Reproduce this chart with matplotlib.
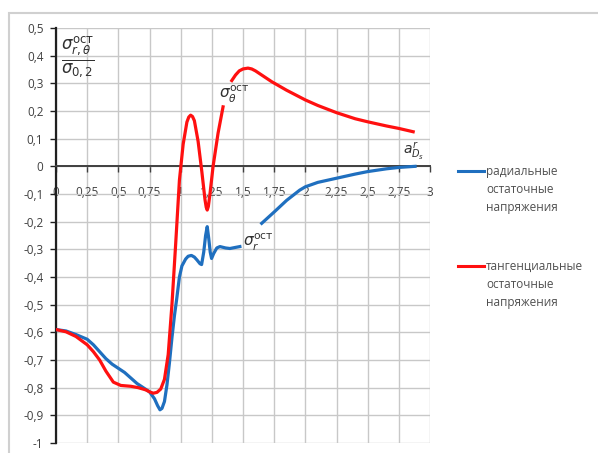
import numpy as np
import matplotlib
matplotlib.use("Agg")
import matplotlib.pyplot as plt
from matplotlib.lines import Line2D
from matplotlib.patches import Rectangle
from matplotlib.ticker import FuncFormatter

plt.rcParams['font.family'] = ['Open Sans', 'DejaVu Sans']

# radial residual stresses
radial_x = [0, 0.08, 0.16, 0.25, 0.3, 0.35, 0.4, 0.45, 0.5, 0.55, 0.6, 0.65, 0.7, 0.75, 0.79,
            0.815, 0.834, 0.85, 0.87, 0.89, 0.91, 0.93, 0.95, 0.968, 0.99, 1.01, 1.04, 1.06,
            1.086, 1.11, 1.13, 1.155, 1.168, 1.185, 1.2, 1.213, 1.225, 1.237, 1.248, 1.265,
            1.29, 1.315, 1.36, 1.395, 1.44, 1.475, np.nan,
            1.65, 1.75, 1.85, 1.955, 2.0, 2.1, 2.25, 2.4, 2.5, 2.65, 2.75, 2.88]
radial_y = [-0.59, -0.595, -0.608, -0.625, -0.645, -0.67, -0.695, -0.715, -0.73, -0.745, -0.765,
            -0.785, -0.80, -0.815, -0.84, -0.865, -0.88, -0.875, -0.85, -0.79, -0.71, -0.62,
            -0.54, -0.48, -0.40, -0.36, -0.335, -0.325, -0.322, -0.328, -0.338, -0.352, -0.355,
            -0.31, -0.25, -0.218, -0.26, -0.31, -0.333, -0.315, -0.295, -0.29, -0.295,
            -0.297, -0.293, -0.29, np.nan,
            -0.206, -0.165, -0.123, -0.086, -0.074, -0.058, -0.043, -0.028, -0.019, -0.009,
            -0.004, 0.0]

# tangential residual stresses
tang_x = [0, 0.08, 0.16, 0.25, 0.3, 0.35, 0.4, 0.46, 0.52, 0.6, 0.66, 0.72, 0.75, 0.78, 0.81,
          0.84, 0.87, 0.9, 0.93, 0.96, 0.99, 1.02, 1.05, 1.065, 1.08, 1.095, 1.11, 1.14, 1.17,
          1.195, 1.205, 1.213, 1.222, 1.235, 1.26, 1.3, 1.34, np.nan, 1.41, 1.44, 1.47, 1.5,
          1.54, 1.57, 1.6, 1.65, 1.73, 1.85, 2.0, 2.1, 2.25, 2.4, 2.5, 2.65, 2.75, 2.865]
tang_y = [-0.59, -0.598, -0.615, -0.645, -0.67, -0.70, -0.74, -0.78, -0.792, -0.795, -0.80,
          -0.808, -0.815, -0.82, -0.817, -0.805, -0.77, -0.68, -0.50, -0.28, -0.05, 0.08,
          0.16, 0.178, 0.185, 0.18, 0.165, 0.09, -0.02, -0.12, -0.148, -0.158, -0.145, -0.1,
          0.0, 0.12, 0.215, np.nan, 0.31, 0.33, 0.345, 0.352, 0.355, 0.352, 0.345, 0.33,
          0.306, 0.275, 0.24, 0.22, 0.194, 0.172, 0.161, 0.146, 0.137, 0.125]

x_ticks = [0, 0.25, 0.5, 0.75, 1, 1.25, 1.5, 1.75, 2, 2.25, 2.5, 2.75, 3]
y_ticks = [-1, -0.9, -0.8, -0.7, -0.6, -0.5, -0.4, -0.3, -0.2, -0.1, 0, 0.1, 0.2, 0.3, 0.4, 0.5]

legend_labels = ["радиальные\nостаточные\nнапряжения",
                 "тангенциальные\nостаточные\nнапряжения"]

W, H = 598, 453
fig = plt.figure(figsize=(W / 100, H / 100), dpi=100)
fig.patch.set_facecolor('white')

# outer chart border
fig.add_artist(Rectangle((9 / W, -0.01), 1.0, 1 - 13 / H + 0.01, transform=fig.transFigure,
                         fill=False, edgecolor='#d0d0d0', linewidth=1.5))

ax = fig.add_axes([56 / W, 1 - 443 / H, (430 - 56) / W, (443 - 28) / H])
ax.set_xlim(0, 3)
ax.set_ylim(-1, 0.5)

ax.plot(radial_x, radial_y, color='#1f6fbf', lw=2.3, zorder=3, solid_joinstyle='round')
ax.plot(tang_x, tang_y, color='#ff1010', lw=2.3, zorder=3, solid_joinstyle='round')

ax.set_xticks(x_ticks)
ax.set_yticks(y_ticks)
fmt = FuncFormatter(lambda v, p: ('%g' % round(v, 2)).replace('.', ','))
ax.xaxis.set_major_formatter(fmt)
ax.yaxis.set_major_formatter(fmt)

ax.grid(True, color='#c8c8c8', lw=1.0)
ax.set_axisbelow(True)
for s in ['top', 'right']:
    ax.spines[s].set_visible(False)
ax.spines['left'].set_color('#202020')
ax.spines['left'].set_linewidth(1.6)
ax.spines['bottom'].set_position(('data', 0))
ax.spines['bottom'].set_color('#404040')
ax.spines['bottom'].set_linewidth(1.4)

ax.tick_params(axis='x', direction='out', length=4, width=1, color='#404040',
               labelsize=8.5, labelcolor='#404040', pad=10)
ax.tick_params(axis='y', direction='out', length=4, width=1, color='#202020',
               labelsize=8.5, labelcolor='#404040', pad=5)

# annotations
ax.text(0.04, 0.395, r'$\frac{\sigma^{\mathrm{ост}}_{r,\theta}}{\sigma_{0,2}}$', fontsize=17,
        color='#303030', va='center', ha='left')
ax.text(1.31, 0.26, r'$\sigma^{\mathrm{ост}}_{\theta}$', fontsize=11, color='#303030', va='center')
ax.text(1.5, -0.275, r'$\sigma^{\mathrm{ост}}_{r}$', fontsize=11, color='#303030', va='center')
ax.text(2.78, 0.055, r'$a^{r}_{D_s}$', fontsize=10, color='#303030', va='center')

# legend
leg_colors = ['#1f6fbf', '#ff1010']
leg_y = [171, 266]
for c, yy, lab in zip(leg_colors, leg_y, legend_labels):
    fig.add_artist(Line2D([458 / W, 484 / W], [1 - yy / H, 1 - yy / H], color=c, lw=2.2,
                          transform=fig.transFigure))
    fig.text(486 / W, 1 - (yy - 6) / H, lab, fontsize=8.5, color='#505050', va='top', ha='left',
             linespacing=1.5)

fig.savefig('out.png', dpi=100)
